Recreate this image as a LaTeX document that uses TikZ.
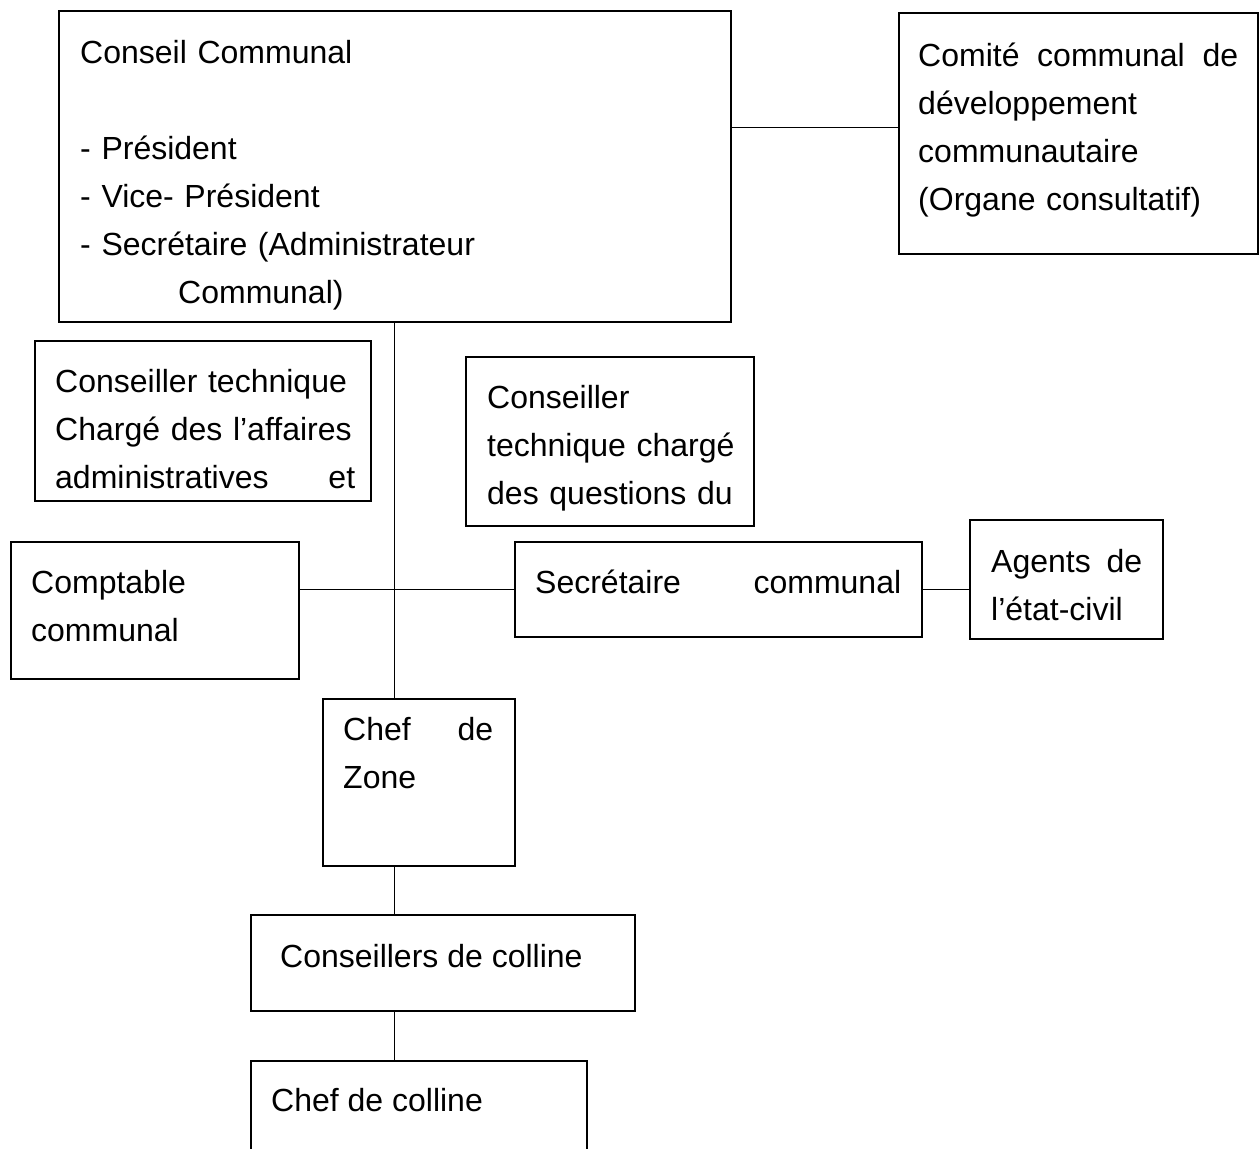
\documentclass[tikz,border=0pt]{standalone}
\usepackage{fontspec}
\setmainfont{Liberation Sans}
\usetikzlibrary{positioning}

\tikzset{
  boite/.style={draw, line width=1.6pt, inner sep=0pt, anchor=north west},
  texte/.style={anchor=north west, inner sep=0pt, align=left,
    font=\fontsize{32}{48}\selectfont, execute at begin node=\strut},
  lien/.style={line width=1.3pt},
}

\begin{document}
\begin{tikzpicture}[x=1pt,y=-1pt]
  \useasboundingbox (0,0) rectangle (1259,1149);
  % boites
  \node[boite, minimum width=672pt, minimum height=311pt] (conseil) at (58,10) {};
  \node[boite, minimum width=359pt, minimum height=241pt] (comite) at (898,12) {};
  \node[boite, minimum width=336pt, minimum height=160pt] (ctadmin) at (34,340) {};
  \node[boite, minimum width=288pt, minimum height=169pt] (ctquest) at (465,356) {};
  \node[boite, minimum width=288pt, minimum height=137pt] (comptable) at (10,541) {};
  \node[boite, minimum width=407pt, minimum height=95pt] (secretaire) at (514,541) {};
  \node[boite, minimum width=193pt, minimum height=119pt] (agents) at (969,519) {};
  \node[boite, minimum width=192pt, minimum height=167pt] (zone) at (322,698) {};
  \node[boite, minimum width=384pt, minimum height=96pt] (conseillers) at (250,914) {};
  \node[boite, minimum width=336pt, minimum height=130pt] (colline) at (250,1060) {};
  % textes
  \node[texte, text width=450pt] (conseil-t) at (80,30)
    {Conseil Communal\\[48pt]- Président\\- Vice- Président\\- Secrétaire (Administrateur\\\hspace*{98pt}Communal)};
  \node[texte, text width=320pt] (comite-t) at (918,33)
    {Comité\hfill communal\hfill de\\développement\\communautaire\\(Organe consultatif)};
  \node[texte, text width=300pt] (ctadmin-t) at (55,359)
    {Conseiller technique\\Chargé des l’affaires\\administratives\hfill et};
  \node[texte, text width=254pt] (ctquest-t) at (487,375)
    {Conseiller\\technique chargé\\des questions du};
  \node[texte, text width=220pt] (comptable-t) at (31,560) {Comptable\\communal};
  \node[texte, text width=366pt] (secretaire-t) at (535,560) {Secrétaire\hfill communal};
  \node[texte, text width=151pt] (agents-t) at (991,539) {Agents\hfill de\\l’état-civil};
  \node[texte, text width=150pt] (zone-t) at (343,707) {Chef\hfill de\\Zone};
  \node[texte] (conseillers-t) at (280,934) {Conseillers de colline};
  \node[texte] (colline-t) at (271,1078) {Chef de colline};
  % liens
  \begin{scope}[lien]
    \draw ([yshift=6pt]conseil.east |- comite.west) to ([yshift=6pt]comite.west);
    \draw (conseil.south) to (conseil.south |- zone.north);
    \draw (comptable.east |- secretaire.west) to (secretaire.west);
    \draw (secretaire.east) to (agents.west |- secretaire.east);
    \draw (conseil.south |- zone.south) to (conseil.south |- conseillers.north);
    \draw (conseil.south |- conseillers.south) to (conseil.south |- colline.north);
  \end{scope}
\end{tikzpicture}
\end{document}
